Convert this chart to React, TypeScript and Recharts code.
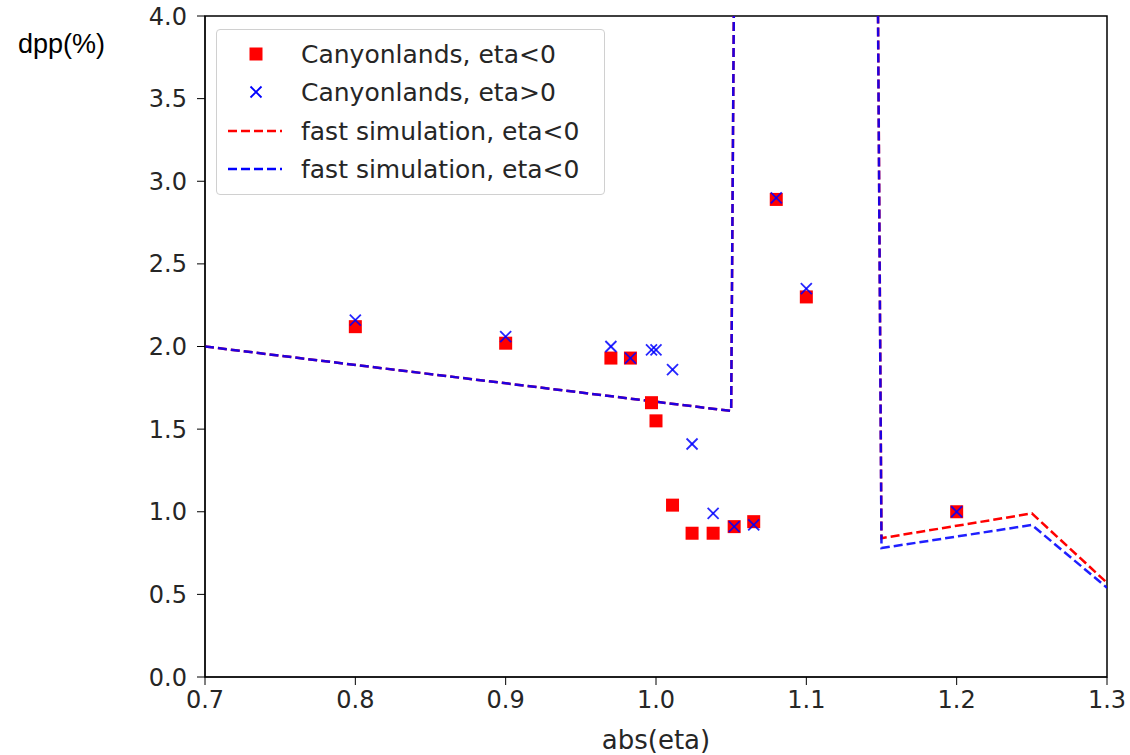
import React from "react";
import {
  ComposedChart,
  XAxis,
  YAxis,
  Scatter,
  Line,
  ReferenceArea,
} from "recharts";

const FONT = "'DejaVu Sans', sans-serif";

const squareX = [0.8, 0.9, 0.97, 0.983, 0.997, 1.0, 1.011, 1.024, 1.038, 1.052, 1.065, 1.08, 1.1, 1.2];
const squareY = [2.12, 2.02, 1.93, 1.93, 1.66, 1.55, 1.04, 0.87, 0.87, 0.91, 0.94, 2.89, 2.3, 1.0];

const crossX = [0.8, 0.9, 0.97, 0.983, 0.997, 1.0, 1.011, 1.024, 1.038, 1.052, 1.065, 1.08, 1.1, 1.2];
const crossY = [2.16, 2.06, 2.0, 1.93, 1.98, 1.98, 1.86, 1.41, 0.99, 0.91, 0.92, 2.9, 2.35, 1.0];

const simX = [0.7, 1.05, 1.1, 1.15, 1.25, 1.3];
const simRedY = [2.0, 1.61, 70, 0.84, 0.99, 0.57];
const simBlueY = [2.0, 1.61, 70, 0.78, 0.92, 0.54];

const xTicks = [0.7, 0.8, 0.9, 1.0, 1.1, 1.2, 1.3];
const yTicks = [0, 0.5, 1.0, 1.5, 2.0, 2.5, 3.0, 3.5, 4.0];

const legendLabels = [
  "Canyonlands, eta<0",
  "Canyonlands, eta>0",
  "fast simulation, eta<0",
  "fast simulation, eta<0",
];

const zip = (xs: number[], ys: number[]) => xs.map((x, i) => ({ x, y: ys[i] }));

const squares = zip(squareX, squareY);
const crosses = zip(crossX, crossY);
const simRed = zip(simX, simRedY);
const simBlue = zip(simX, simBlueY);

const SquareShape = (props: any) => {
  const { cx, cy } = props;
  if (cx == null || cy == null) return null;
  const s = 13;
  return <rect x={cx - s / 2} y={cy - s / 2} width={s} height={s} fill="#ff0000" />;
};

const CrossShape = (props: any) => {
  const { cx, cy } = props;
  if (cx == null || cy == null) return null;
  const h = 5.5;
  return (
    <g stroke="#0000ff" strokeWidth={1.8} strokeOpacity={0.85}>
      <line x1={cx - h} y1={cy - h} x2={cx + h} y2={cy + h} />
      <line x1={cx - h} y1={cy + h} x2={cx + h} y2={cy - h} />
    </g>
  );
};

const LegendBox = () => {
  const rowY = [53, 91, 130, 168];
  return (
    <div
      style={{
        position: "absolute",
        left: 216,
        top: 29,
        width: 389,
        height: 166,
        border: "1px solid #d0d0d0",
        borderRadius: 4,
        background: "rgba(255,255,255,0.8)",
        boxSizing: "border-box",
      }}
    >
      <svg width={389} height={166} style={{ position: "absolute", left: 0, top: 0 }}>
        {legendLabels.map((lab, i) => {
          const cy = rowY[i] - 29;
          return (
            <g key={i}>
              {i === 0 && <rect x={39 - 6.5} y={cy - 6.5} width={13} height={13} fill="#ff0000" />}
              {i === 1 && (
                <g stroke="#0000ff" strokeWidth={1.8}>
                  <line x1={33.5} y1={cy - 5.5} x2={44.5} y2={cy + 5.5} />
                  <line x1={33.5} y1={cy + 5.5} x2={44.5} y2={cy - 5.5} />
                </g>
              )}
              {i >= 2 && (
                <line
                  x1={11}
                  y1={cy}
                  x2={65}
                  y2={cy}
                  stroke={i === 2 ? "#ff0000" : "#0000ff"}
                  strokeWidth={2.5}
                  strokeDasharray="9 4"
                />
              )}
              <text
                x={84}
                y={cy}
                dy="0.36em"
                fontFamily={FONT}
                fontSize={25}
                fill="#262626"
              >
                {lab}
              </text>
            </g>
          );
        })}
      </svg>
    </div>
  );
};

export default function App() {
  return (
    <div style={{ position: "absolute", left: 0, top: 0, width: 1130, height: 755, background: "#fff" }}>
      <ComposedChart
        width={1130}
        height={755}
        margin={{ top: 16, right: 23, bottom: 0, left: 0 }}
      >
        <XAxis
          dataKey="x"
          type="number"
          domain={[0.7, 1.3]}
          ticks={xTicks}
          allowDataOverflow
          tickFormatter={(v: number) => v.toFixed(1)}
          height={78}
          tickSize={8}
          tickMargin={6}
          stroke="#000"
          tick={{ fontFamily: FONT, fontSize: 24, fill: "#262626" }}
          label={{
            value: "abs(eta)",
            position: "insideBottom",
            offset: 6,
            style: { fontFamily: FONT, fontSize: 26, fill: "#262626" },
          }}
        />
        <YAxis
          dataKey="y"
          type="number"
          domain={[0, 4]}
          ticks={yTicks}
          allowDataOverflow
          tickFormatter={(v: number) => v.toFixed(1)}
          width={205}
          tickSize={8}
          tickMargin={10}
          stroke="#000"
          tick={{ fontFamily: FONT, fontSize: 24, fill: "#262626" }}
          label={{
            value: "dpp(%)",
            position: "insideTopLeft",
            offset: 18,
            style: { fontFamily: "'Liberation Sans', Arial, sans-serif", fontSize: 27, fill: "#000" },
          }}
        />
        <ReferenceArea
          x1={0.7}
          x2={1.3}
          y1={0}
          y2={4}
          fill="none"
          stroke="#000"
          strokeWidth={1.5}
          ifOverflow="extendDomain"
        />
        <Scatter data={squares} shape={SquareShape} isAnimationActive={false} />
        <Scatter data={crosses} shape={CrossShape} isAnimationActive={false} />
        <Line
          data={simRed}
          dataKey="y"
          type="linear"
          stroke="#ff0000"
          strokeWidth={2.5}
          strokeDasharray="9 4"
          dot={false}
          isAnimationActive={false}
        />
        <Line
          data={simBlue}
          dataKey="y"
          type="linear"
          stroke="#0000ff"
          strokeOpacity={0.88}
          strokeWidth={2.5}
          strokeDasharray="9 4"
          dot={false}
          isAnimationActive={false}
        />
      </ComposedChart>
      <LegendBox />
    </div>
  );
}
